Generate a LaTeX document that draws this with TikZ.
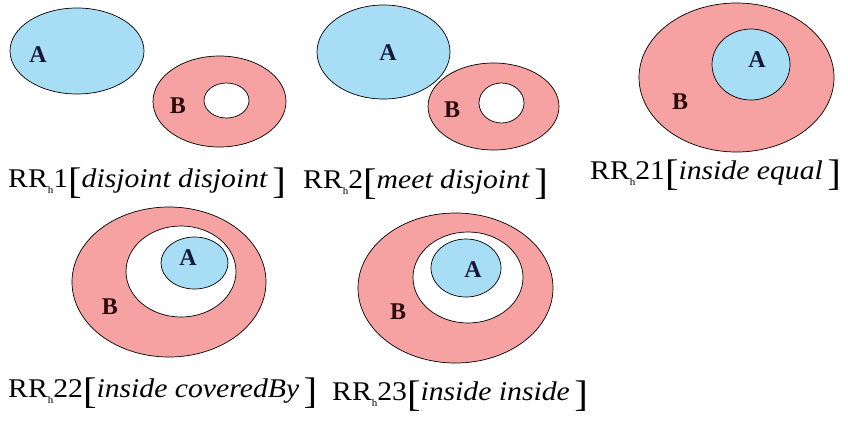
\documentclass[tikz,border=0pt]{standalone}
\usepackage{xcolor}
\usepackage{fontspec}
\setmainfont{Liberation Serif}
\newfontfamily\capfont[FakeStretch=1.1]{Liberation Serif}
\usepackage{tikz}
\usetikzlibrary{shapes.geometric,positioning}
\definecolor{skyfill}{HTML}{A8DDF6}
\definecolor{rosefill}{HTML}{F6A2A2}
\definecolor{inkA}{HTML}{15183A}
\definecolor{inkB}{HTML}{2A0C0C}
\newcommand{\rrcap}[2]{RR\raisebox{-6pt}{\fontsize{10}{10}\selectfont h}#1\raisebox{-6pt}{\fontsize{37}{37}\selectfont[}\textit{#2}\,\raisebox{-6pt}{\fontsize{37}{37}\selectfont]}}
\tikzset{
  region/.style={ellipse, draw=black, line width=0.7pt, inner sep=0pt},
  regA/.style={region, fill=skyfill},
  regB/.style={region, fill=rosefill},
  hole/.style={region, fill=white},
  lblA/.style={font=\fontsize{24}{24}\selectfont\bfseries, text=inkA, inner sep=0pt},
  lblB/.style={font=\fontsize{24}{24}\selectfont\bfseries, text=inkB, inner sep=0pt},
  caption/.style={anchor=base west, inner sep=0pt, font=\capfont\fontsize{27}{30}\selectfont}
}
\begin{document}
\begin{tikzpicture}[x=1pt, y=-1pt]
  \useasboundingbox (0,0) rectangle (848,421);
  % RRh1: disjoint disjoint
  \node[regA, minimum width=134, minimum height=86] (a1) at (77,51) {};
  \node[regB, minimum width=133, minimum height=91] (b1) at (219.5,101.5) {};
  \node[hole, minimum width=45, minimum height=35] (h1) at (226.5,100.5) {};
  \node[lblA] (ta1) at (38,55) {A};
  \node[lblB] (tb1) at (178,106) {B};
  \node[caption] (c1) at (8,187) {\rrcap{1}{disjoint disjoint}};
  % RRh2: meet disjoint
  \node[regA, minimum width=133, minimum height=94] (a2) at (383.5,52) {};
  \node[regB, minimum width=131, minimum height=87] (b2) at (493.5,106.5) {};
  \node[hole, minimum width=45, minimum height=40] (h2) at (501.5,103) {};
  \node[lblA] (ta2) at (388,53) {A};
  \node[lblB] (tb2) at (452,110) {B};
  \node[caption] (c2) at (303,188) {\rrcap{2}{meet disjoint}};
  % RRh21: inside equal
  \node[regB, minimum width=195, minimum height=149] (b3) at (736.5,77.5) {};
  \node[regA, minimum width=78, minimum height=71] (a3) at (751,64.5) {};
  \node[lblA] (ta3) at (757,60) {A};
  \node[lblB] (tb3) at (680,102) {B};
  \node[caption] (c3) at (590,179) {\rrcap{21}{inside equal}};
  % RRh22: inside coveredBy
  \node[regB, minimum width=194, minimum height=150] (b4) at (169,282) {};
  \node[hole, minimum width=110, minimum height=91] (h4) at (181,271.5) {};
  \node[regA, minimum width=67, minimum height=52] (a4) at (194.5,263) {};
  \node[lblA] (ta4) at (188,258) {A};
  \node[lblB] (tb4) at (110,307) {B};
  \node[caption] (c4) at (8,397) {\rrcap{22}{inside coveredBy}};
  % RRh23: inside inside
  \node[regB, minimum width=195, minimum height=150] (b5) at (455.5,288) {};
  \node[hole, minimum width=110, minimum height=91] (h5) at (468,277.5) {};
  \node[regA, minimum width=70, minimum height=58] (a5) at (466,268) {};
  \node[lblA] (ta5) at (473,270) {A};
  \node[lblB] (tb5) at (398,312) {B};
  \node[caption] (c5) at (332,400) {\rrcap{23}{inside inside}};
\end{tikzpicture}
\end{document}
